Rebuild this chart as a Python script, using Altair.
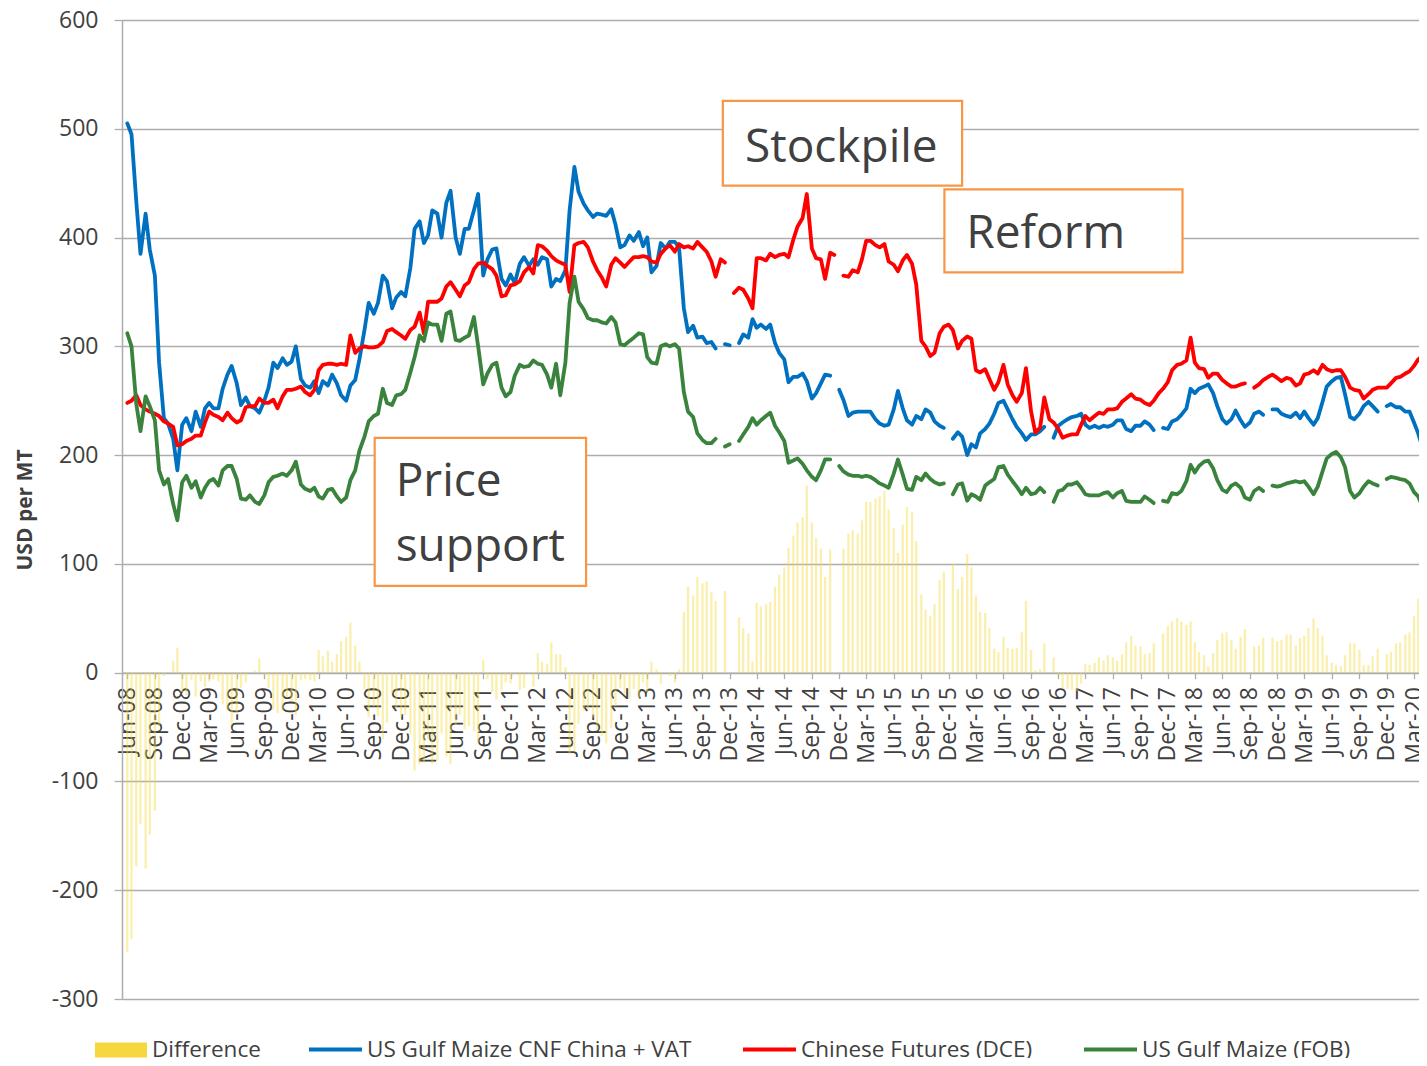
import altair as alt
import pandas as pd

# Semi-monthly observations (1st and 15th of each month), Jun-2008 .. Apr-2020
dates = pd.date_range("2008-06-01", periods=285, freq="SMS")

# US Gulf Maize CNF China + VAT (USD/MT)
us_cnf_vat = [
    505, 495, 433, 385, 422, 389, 365, 285, 234, 229,
    215, 186, 228, 234, 222, 240, 226, 243, 248, 243,
    243, 261, 274, 282, 266, 246, 253, 245, 243, 239,
    250, 262, 285, 280, 289, 283, 286, 300, 270, 264,
    262, 268, 257, 268, 264, 274, 266, 255, 250, 264,
    269, 288, 315, 340, 330, 340, 365, 360, 335, 345,
    350, 346, 372, 408, 415, 395, 402, 425, 422, 400,
    432, 443, 400, 385, 408, 408, 425, 440, 365, 380,
    389, 390, 362, 356, 366, 358, 376, 382, 374, 380,
    375, 382, 380, 355, 362, 360, 370, 425, 465, 442,
    431, 425, 419, 422, 421, 420, 426, 412, 391, 393,
    402, 397, 405, 392, 400, 368, 374, 395, 390, 396,
    396, 391, 335, 313, 319, 308, 309, 303, 304, 298,
    None, 302, 301, None, 303, 311, 308, 325, 317, 320,
    316, 320, 303, 294, 288, 267, 272, 272, 275, 268,
    252, 257, 266, 274, 273, None, 260, 251, 236, 239,
    240, 240, 240, 240, 233, 229, 227, 228, 242, 259,
    243, 232, 228, 236, 233, 242, 239, 231, 227, 225,
    None, 215, 221, 217, 200, 210, 207, 220, 224, 229,
    238, 248, 250, 242, 233, 226, 220, 214, 219, 219,
    222, 226, None, 216, 227, 230, 233, 235, 236, 238,
    228, 225, 227, 225, 227, 226, 228, 232, 232, 224,
    222, 227, 227, 231, 228, 223, None, 225, 224, 231,
    233, 237, 243, 261, 257, 261, 263, 265, 257, 245,
    233, 229, 233, 241, 232, 226, 230, 238, 240, 237,
    None, 242, 242, 238, 236, 235, 239, 234, 240, 234,
    228, 234, 249, 263, 268, 271, 272, 256, 235, 233,
    238, 245, 249, 245, 240, None, 245, 247, 244, 244,
    240, 240, 230, 220, 204,
]

# Chinese Futures (DCE) (USD/MT)
dce_futures = [
    248, 250, 255, 246, 242, 240, 238, 236, 231, 229,
    226, 209, 210, 213, 215, 218, 218, 230, 240, 237,
    235, 232, 239, 234, 230, 232, 244, 245, 245, 252,
    248, 248, 251, 243, 254, 260, 260, 261, 263, 258,
    255, 260, 278, 283, 284, 284, 283, 284, 283, 310,
    294, 298, 300, 299, 299, 300, 304, 314, 316, 313,
    310, 307, 315, 318, 331, 312, 341, 341, 341, 344,
    355, 359, 352, 346, 356, 359, 371, 376, 377, 374,
    371, 365, 346, 347, 356, 357, 360, 368, 373, 367,
    393, 392, 388, 383, 379, 377, 375, 350, 393, 395,
    396, 391, 378, 370, 363, 355, 375, 381, 377, 373,
    378, 382, 382, 383, 382, 378, 377, 385, 390, 393,
    387, 394, 391, 392, 390, 396, 391, 387, 378, 364,
    380, 377, None, 349, 354, 352, 344, 335, 381, 381,
    379, 385, 382, 384, 385, 382, 398, 410, 418, 440,
    390, 381, 380, 362, 386, 384, None, 365, 364, 370,
    368, 380, 397, 397, 393, 391, 394, 378, 375, 369,
    379, 384, 376, 357, 305, 300, 291, 294, 312, 318,
    320, 315, 298, 305, 309, 307, 278, 276, 279, 270,
    260, 267, 283, 265, 255, 249, 257, 280, 240, 221,
    225, 253, 233, 230, 224, 216, 218, 219, 219, 228,
    236, 232, 236, 239, 238, 242, 242, 243, 249, 252,
    256, 252, 251, 248, 246, 250, 257, 261, 267, 278,
    283, 284, 287, 308, 285, 280, 279, 271, 275, 275,
    269, 266, 263, 263, 265, 266, None, 262, 265, 269,
    272, 274, 271, 268, 271, 270, 264, 266, 274, 275,
    278, 275, 283, 279, 277, 278, 278, 272, 262, 260,
    259, 252, 256, 260, 262, 262, 262, 266, 271, 272,
    275, 277, 282, 288, 292,
]

# US Gulf Maize (FOB) (USD/MT)
us_fob = [
    312, 300, 247, 222, 254, 245, 232, 186, 173, 178,
    155, 140, 175, 181, 170, 176, 161, 170, 176, 178,
    172, 186, 190, 190, 178, 160, 159, 163, 157, 155,
    163, 175, 180, 181, 183, 181, 186, 194, 173, 169,
    167, 170, 162, 160, 168, 169, 162, 157, 161, 177,
    186, 204, 217, 231, 236, 238, 261, 248, 246, 255,
    256, 260, 276, 290, 310, 305, 322, 320, 320, 305,
    330, 332, 306, 305, 308, 310, 327, 300, 265, 275,
    283, 285, 262, 254, 258, 273, 283, 281, 282, 287,
    284, 283, 274, 262, 284, 255, 285, 340, 364, 341,
    334, 326, 324, 324, 322, 321, 327, 322, 302, 301,
    305, 308, 312, 311, 290, 285, 284, 300, 302, 300,
    302, 298, 258, 240, 235, 220, 214, 211, 211, 215,
    None, 208, 210, None, 213, 219, 226, 234, 228, 232,
    236, 239, 227, 221, 213, 193, 195, 197, 192, 186,
    180, 177, 186, 196, 196, None, 190, 185, 182, 181,
    181, 180, 181, 180, 177, 174, 172, 170, 183, 196,
    182, 169, 168, 180, 177, 183, 178, 175, 173, 174,
    None, 164, 173, 174, 158, 164, 162, 159, 172, 175,
    178, 189, 190, 182, 176, 171, 164, 170, 164, 165,
    170, 166, None, 157, 167, 168, 173, 173, 175, 170,
    164, 163, 163, 163, 165, 166, 161, 165, 167, 158,
    157, 157, 157, 162, 159, 156, None, 158, 157, 165,
    164, 167, 176, 191, 184, 190, 194, 195, 188, 177,
    168, 166, 172, 174, 170, 161, 159, 167, 170, 167,
    None, 172, 171, 172, 174, 175, 176, 175, 176, 171,
    164, 171, 185, 197, 201, 203, 198, 189, 167, 161,
    165, 171, 176, 174, 172, None, 178, 180, 179, 178,
    177, 174, 166, 162, 151,
]

series_names = ["US Gulf Maize CNF China + VAT", "Chinese Futures (DCE)", "US Gulf Maize (FOB)"]
series_colors = ["#0070C0", "#FF0000", "#3A833C"]
bar_name = "Difference"
bar_color = "#F6D83E"

# quarterly tick months (Jun-08 .. Mar-20)
tick_months = [(2008 + (5 + 3 * i) // 12, (5 + 3 * i) % 12 + 1) for i in range(48)]

# annotation boxes (in data units)
ann_text = ["Stockpile", "Reform", "Price\nsupport"]
ann_box_from = ["2013-11-08", "2015-11-17", "2010-09-04"]
ann_box_to = ["2016-01-15", "2018-01-19", "2012-08-09"]
ann_box_top = [525.7, 444.3, 215.9]
ann_box_bottom = [447.7, 367.9, 79.8]
ann_text_at = ["2014-01-21", "2016-01-29", "2010-11-13"]
ann_text_value = [469.7, 390.2, 162.4]

# ---------------------------------------------------------------- data tables
rows = []
for name, vals in zip(series_names, [us_cnf_vat, dce_futures, us_fob]):
    seg = 0
    for d, v in zip(dates, vals):
        if v is None:
            seg += 1
            continue
        rows.append({"date": d, "value": v, "line_series": name, "seg": f"{name}|{seg}"})
lines_df = pd.DataFrame(rows)

diff_df = pd.DataFrame([
    {"date": d, "diff": r - b, "bar_series": bar_name}
    for d, r, b in zip(dates, dce_futures, us_cnf_vat)
    if r is not None and b is not None
])

ann_df = pd.DataFrame({
    "label": ann_text,
    "b0": pd.to_datetime(ann_box_from),
    "b1": pd.to_datetime(ann_box_to),
    "top": ann_box_top,
    "bot": ann_box_bottom,
    "tx": pd.to_datetime(ann_text_at),
    "ty": ann_text_value,
})

# ---------------------------------------------------------------- scales/axes
GRID = "#ADADAD"
TXT = "#404040"
FONT = "Open Sans"
PLOT_H = 979

x_scale = alt.Scale(domain=[alt.DateTime(year=2008, month=5, date=31),
                            alt.DateTime(year=2020, month=3, date=1)])
y_scale = alt.Scale(domain=[-300, 600], nice=False, zero=False)

x_axis = alt.Axis(
    values=[alt.DateTime(year=y, month=m, date=1) for (y, m) in tick_months],
    format="%b-%y", labelAngle=-90, offset=-PLOT_H * 300 / 900, grid=False,
    tickSize=6, tickColor=GRID, tickWidth=1.3, domainColor=GRID, domainWidth=1.5,
    labelFontSize=23, labelColor=TXT, labelFont=FONT, labelPadding=8,
    labelFlush=False, labelOverlap=False, labelBound=False, title=None,
)
y_axis = alt.Axis(
    values=list(range(-300, 601, 100)), grid=True, gridColor=GRID, gridWidth=1.3,
    domainColor=GRID, domainWidth=1.5, tickColor=GRID, tickSize=8, tickWidth=1.3,
    labelFontSize=23, labelColor=TXT, labelFont=FONT, labelPadding=16,
    labelExpr="datum.value < 0 ? '-' + abs(datum.value) : '' + datum.value",
    title="USD per MT", titleFontSize=21, titleFontWeight="bold", titleColor=TXT,
    titleFont=FONT, titleAngle=270, titleX=-87, titleY=PLOT_H / 2, titleBaseline="bottom",
    titleAlign="center",
)

X = alt.X("date:T", scale=x_scale, axis=x_axis)

bars = alt.Chart(diff_df).mark_bar(width=2.3, opacity=0.42, clip=True).encode(
    x=X,
    y=alt.Y("diff:Q", scale=y_scale, axis=y_axis, stack=None),
    fill=alt.Fill("bar_series:N",
                  scale=alt.Scale(domain=[bar_name], range=[bar_color]),
                  legend=alt.Legend(orient="none", legendX=-27, legendY=1004, title=None,
                                    symbolType="M-1,-0.29H1V0.29H-1Z", symbolSize=2704,
                                    symbolOpacity=1, symbolStrokeWidth=0,
                                    labelFontSize=22.5, labelFont=FONT, labelColor=TXT,
                                    labelOffset=5, labelLimit=500)),
)

lines = alt.Chart(lines_df).mark_line(strokeWidth=3.8, strokeJoin="round", strokeCap="round",
                                      clip=True).encode(
    x=X,
    y=alt.Y("value:Q", scale=y_scale, axis=y_axis),
    stroke=alt.Stroke("line_series:N",
                      scale=alt.Scale(domain=series_names, range=series_colors),
                      legend=alt.Legend(orient="none", legendX=185, legendY=1001, title=None,
                                        direction="horizontal", symbolType="stroke",
                                        symbolSize=2809, symbolStrokeWidth=4,
                                        labelFontSize=22.5, labelFont=FONT, labelColor=TXT,
                                        labelOffset=3, columnPadding=43, labelLimit=500)),
    detail="seg:N",
)

boxes = alt.Chart(ann_df).mark_rect(fill="white", stroke="#F79646", strokeWidth=2.2).encode(
    x=alt.X("b0:T", scale=x_scale, axis=x_axis),
    x2="b1:T",
    y=alt.Y("top:Q", scale=y_scale, axis=y_axis),
    y2="bot:Q",
)

texts = alt.Chart(ann_df).mark_text(align="left", baseline="alphabetic", fontSize=46,
                                    font=FONT, color=TXT, lineBreak="\n",
                                    lineHeight=65).encode(
    x=alt.X("tx:T", scale=x_scale, axis=x_axis),
    y=alt.Y("ty:Q", scale=y_scale, axis=y_axis),
    text="label:N",
)

chart = alt.layer(bars, lines, boxes, texts).properties(
    width=1297, height=PLOT_H,
    autosize=alt.AutoSizeParams(type="none"),
    padding={"left": 114, "top": 12, "right": 0, "bottom": 59},
    background="white",
).configure_view(stroke=None).configure(font=FONT)

chart.save("out.html", embed_options={"renderer": "svg", "actions": False})
